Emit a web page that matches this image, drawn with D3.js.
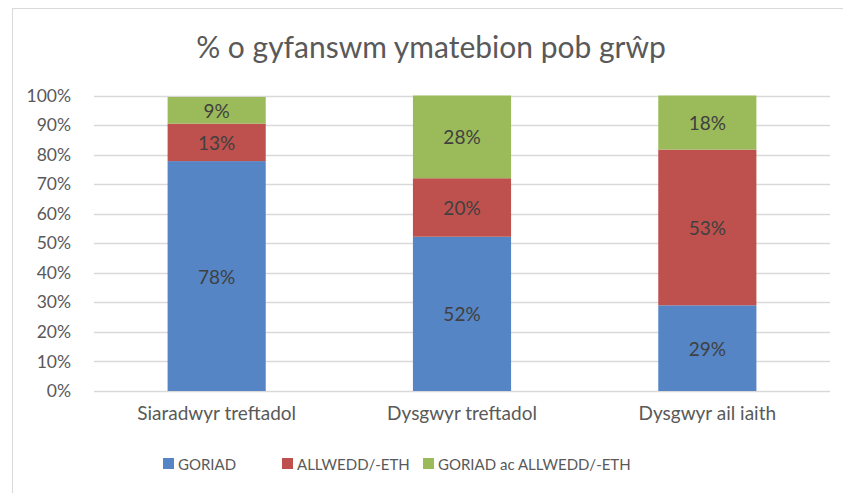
<!DOCTYPE html>
<html>
<head>
<meta charset="utf-8">
<script src="https://cdn.jsdelivr.net/npm/d3@7"></script>
<style>
  body { margin: 0; background: #fff; }
  svg { display: block; font-family: Lato, "Open Sans", sans-serif; }
</style>
</head>
<body>
<div id="chart"></div>
<script>
// Data
const categories = ["Siaradwyr treftadol", "Dysgwyr treftadol", "Dysgwyr ail iaith"];
const seriesNames = ["GORIAD", "ALLWEDD/-ETH", "GORIAD ac ALLWEDD/-ETH"];
const goriad = [77.8, 52.2, 29.0];
const allwedd = [12.7, 19.8, 52.7];
const goriadAcAllwedd = [9.0, 28.0, 18.3];
const yTicks = [0, 10, 20, 30, 40, 50, 60, 70, 80, 90, 100];

const colors = ["#5585C5", "#BE514D", "#9BBB5A"];

const width = 843, height = 493;
const margin = { top: 95.5, right: 13, bottom: 102, left: 94 };

const svg = d3.select("#chart")
  .append("svg")
    .attr("width", width)
    .attr("height", height);

// chart frame (runs off the right and bottom of the window)
svg.append("rect")
  .attr("x", 12.5).attr("y", 8.5)
  .attr("width", 900).attr("height", 600)
  .attr("fill", "none")
  .attr("stroke", "#d9d9d9");

svg.append("text")
  .text("% o gyfanswm ymatebion pob grŵp")
  .attr("x", 431).attr("y", 58)
  .attr("text-anchor", "middle")
  .attr("font-size", 30)
  .attr("fill", "#595959");

const x = d3.scaleBand()
  .domain(categories)
  .range([margin.left, width - margin.right])
  .paddingInner(0.6)
  .paddingOuter(0.3);

const y = d3.scaleLinear()
  .domain([0, 100])
  .range([height - margin.bottom, margin.top]);

// gridlines
svg.append("g")
  .selectAll("line")
  .data(yTicks)
  .join("line")
    .attr("x1", margin.left)
    .attr("x2", width - margin.right)
    .attr("y1", d => Math.round(y(d)) + 0.5)
    .attr("y2", d => Math.round(y(d)) + 0.5)
    .attr("stroke", "#d9d9d9")
    .attr("stroke-width", 1.3);

// y axis labels
const yAxis = svg.append("g")
  .attr("transform", `translate(${margin.left - 20},0)`)
  .call(d3.axisLeft(y).tickValues(yTicks).tickFormat(d => d + "%").tickSize(0));
yAxis.select(".domain").remove();
yAxis.selectAll("text")
  .attr("font-family", "Lato, sans-serif")
  .attr("font-size", 17.5)
  .attr("fill", "#595959");

// x axis labels
const xAxis = svg.append("g")
  .attr("transform", `translate(0,${height - margin.bottom + 12})`)
  .call(d3.axisBottom(x).tickSize(0));
xAxis.select(".domain").remove();
xAxis.selectAll("text")
  .attr("font-family", "Lato, sans-serif")
  .attr("font-size", 19)
  .attr("fill", "#595959");

// stack the series
const table = categories.map((c, i) => ({
  category: c,
  [seriesNames[0]]: goriad[i],
  [seriesNames[1]]: allwedd[i],
  [seriesNames[2]]: goriadAcAllwedd[i]
}));
const stacked = d3.stack().keys(seriesNames)(table);

const layers = svg.append("g")
  .selectAll("g")
  .data(stacked)
  .join("g")
    .attr("fill", (d, i) => colors[i]);

layers.selectAll("rect")
  .data(d => d)
  .join("rect")
    .attr("x", d => x(d.data.category))
    .attr("width", x.bandwidth())
    .attr("y", d => y(d[1]))
    .attr("height", d => y(d[0]) - y(d[1]));

layers.selectAll("text")
  .data(d => d)
  .join("text")
    .text(d => Math.round(d[1] - d[0]) + "%")
    .attr("x", d => x(d.data.category) + x.bandwidth() / 2)
    .attr("y", d => (y(d[0]) + y(d[1])) / 2)
    .attr("text-anchor", "middle")
    .attr("dominant-baseline", "central")
    .attr("font-size", 19)
    .attr("fill", "#404040");

// legend
const legendX = [163, 282, 423];
const legend = svg.append("g")
  .selectAll("g")
  .data(seriesNames)
  .join("g")
    .attr("transform", (d, i) => `translate(${legendX[i]},464)`);
legend.append("rect")
  .attr("x", 0).attr("y", -6)
  .attr("width", 11).attr("height", 11)
  .attr("fill", (d, i) => colors[i]);
legend.append("text")
  .text(d => d)
  .attr("x", 15)
  .attr("y", 0)
  .attr("dominant-baseline", "central")
  .attr("font-size", 15)
  .attr("fill", "#595959");
</script>
</body>
</html>
